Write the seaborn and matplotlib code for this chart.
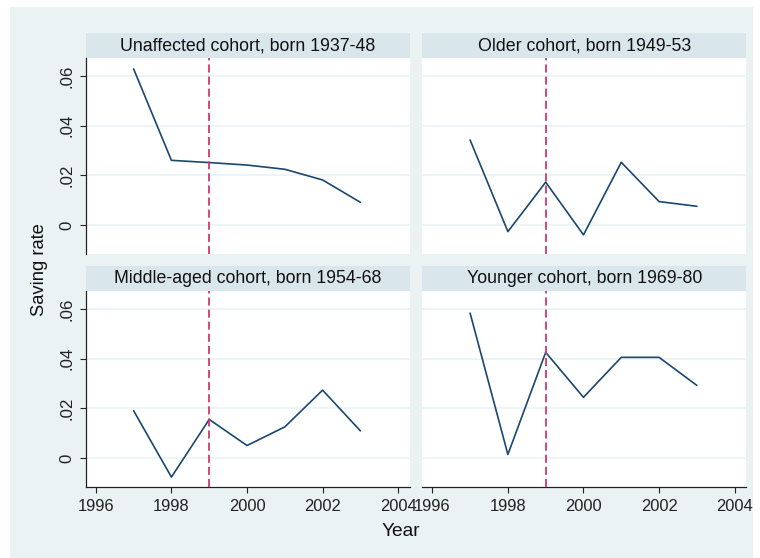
"""Saving rate by birth cohort, 1997-2003, small multiples."""

import matplotlib

matplotlib.use("Agg")
import matplotlib.pyplot as plt
import pandas as pd
import seaborn as sns
from matplotlib.patches import Rectangle

# Data
years = [1997, 1998, 1999, 2000, 2001, 2002, 2003]
cohorts = [
    "Unaffected cohort, born 1937-48",
    "Older cohort, born 1949-53",
    "Middle-aged cohort, born 1954-68",
    "Younger cohort, born 1969-80",
]
unaffected = [0.0628, 0.0260, 0.0251, 0.0241, 0.0224, 0.0181, 0.0091]
older = [0.0342, -0.0027, 0.0172, -0.0040, 0.0252, 0.0094, 0.0075]
middle_aged = [0.0190, -0.0077, 0.0155, 0.0050, 0.0125, 0.0273, 0.0109]
younger = [0.0583, 0.0014, 0.0425, 0.0244, 0.0405, 0.0405, 0.0292]
reform_year = 1999
x_ticks = [1996, 1998, 2000, 2002, 2004]
y_ticks = [0, 0.02, 0.04, 0.06]
y_tick_labels = ["0", ".02", ".04", ".06"]

# Stata s2color-like palette
OUTER_BG = "#EAF2F3"
STRIP_BG = "#D9E6EB"
GRID = "#EAF2F3"
LINE = "#1A476F"
XLINE = "#D2386C"

sns.set_theme(style="white")
plt.rcParams["font.family"] = ["Liberation Sans", "DejaVu Sans"]
plt.rcParams.update({
    "xtick.major.size": 4.5,
    "ytick.major.size": 4.5,
    "xtick.major.width": 0.8,
    "ytick.major.width": 0.8,
    "xtick.color": "#222222",
    "ytick.color": "#222222",
    "xtick.labelsize": 11.9,
    "ytick.labelsize": 12.1,
})

df = pd.concat(
    [
        pd.DataFrame({"year": years, "rate": vals, "cohort": name})
        for name, vals in zip(cohorts, [unaffected, older, middle_aged, younger])
    ],
    ignore_index=True,
)

g = sns.FacetGrid(
    df, col="cohort", col_wrap=2, col_order=cohorts,
    sharex=True, sharey=True, despine=False,
)
g.map_dataframe(sns.lineplot, x="year", y="rate", color=LINE, linewidth=1.2)

fig = g.figure
fig.set_size_inches(7.6, 5.58)
fig.set_dpi(100)
fig.patch.set_facecolor("white")
fig.subplots_adjust(left=86 / 760, right=746 / 760, top=1 - 58 / 558,
                    bottom=1 - 487 / 558, wspace=0.040, hspace=0.189)

# outer light background panel
fig.patches.append(Rectangle((10 / 760, 0), 743 / 760, 1 - 7 / 558,
                             transform=fig.transFigure, facecolor=OUTER_BG,
                             edgecolor="none", zorder=-10))

axes = g.axes.flatten()
strip_h = 25 / 196
for i, (ax, name) in enumerate(zip(axes, cohorts)):
    ax.set_facecolor("white")
    ax.set_xlim(1995.74, 2004.3)
    ax.set_ylim(-0.0117, 0.0672)
    ax.set_yticks(y_ticks)
    ax.set_xticks(x_ticks)
    ax.grid(axis="y", color=GRID, linewidth=1.2, zorder=0)
    ax.grid(axis="x", visible=False)
    ax.axvline(reform_year, color=XLINE, linestyle=(0, (4.5, 2.2)),
               linewidth=1.3, zorder=3)
    ax.set_title("")
    ax.set_xlabel("")
    ax.set_ylabel("")
    for side in ["top", "right", "left", "bottom"]:
        ax.spines[side].set_visible(False)

    left_col = i % 2 == 0
    bottom_row = i >= 2
    if left_col:
        ax.spines["left"].set_visible(True)
        ax.spines["left"].set_color("#222222")
        ax.spines["left"].set_linewidth(0.9)
        ax.set_yticklabels(y_tick_labels, rotation=90, va="center")
        ax.tick_params(axis="y", left=True, pad=4)
    else:
        ax.tick_params(axis="y", left=False, labelleft=False)
    if bottom_row:
        ax.spines["bottom"].set_visible(True)
        ax.spines["bottom"].set_color("#222222")
        ax.spines["bottom"].set_linewidth(0.9)
        ax.tick_params(axis="x", bottom=True, labelbottom=True, pad=4)
        ax.set_xticklabels([str(t) for t in x_ticks])
    else:
        ax.tick_params(axis="x", bottom=False, labelbottom=False)

    ax.add_patch(Rectangle((0, 1), 1, strip_h, transform=ax.transAxes,
                           facecolor=STRIP_BG, edgecolor="none",
                           clip_on=False, zorder=1))
    ax.text(0.5, 1 + strip_h / 2, name, transform=ax.transAxes,
            ha="center", va="center", fontsize=12.8, color="#111111")

fig.text(40 / 760, 1 - 270 / 558, "Saving rate", rotation=90,
         ha="center", va="center", fontsize=13.2, color="#111111")
fig.text(401 / 760, 1 - 531 / 558, "Year", ha="center", va="center",
         fontsize=13.8, color="#111111")

fig.savefig("out.png", dpi=100, facecolor="white")
